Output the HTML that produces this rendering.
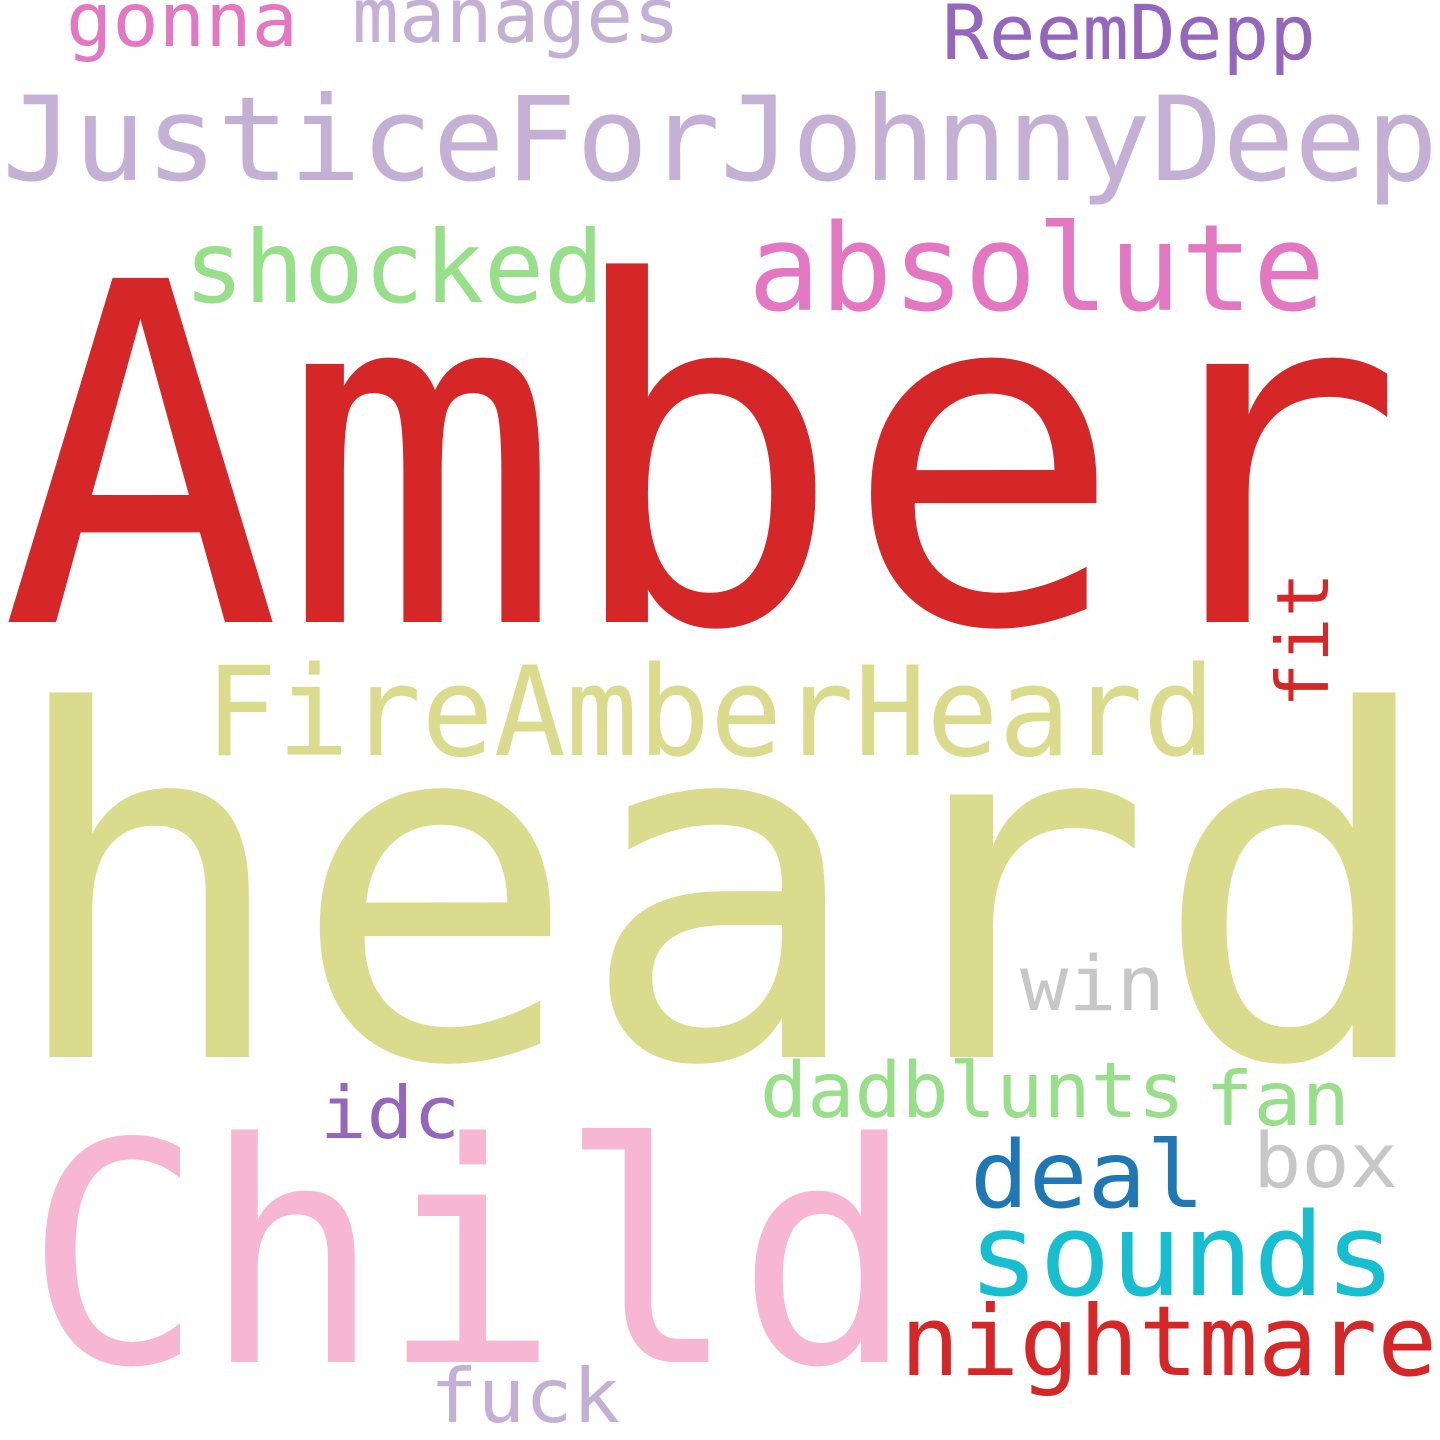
<!DOCTYPE html>
<html><head><meta charset="utf-8"><style>
html,body{margin:0;padding:0;background:#fff}
svg{display:block}
text{font-family:"DejaVu Sans Mono","Liberation Mono",monospace}
</style></head><body>
<svg width="1440" height="1440" viewBox="0 0 1440 1440">
<rect width="1440" height="1440" fill="#fff"/>
<text x="66" y="46" font-size="75" fill="#e377c2" textLength="232" lengthAdjust="spacingAndGlyphs">gonna</text>
<text x="352" y="42" font-size="76" fill="#c5b0d5" textLength="328" lengthAdjust="spacingAndGlyphs">manages</text>
<text x="942" y="59" font-size="76" fill="#9467bd" textLength="374" lengthAdjust="spacingAndGlyphs">ReemDepp</text>
<text x="2" y="180" font-size="117" fill="#c5b0d5" textLength="1436" lengthAdjust="spacingAndGlyphs">JusticeForJohnnyDeep</text>
<text x="184" y="302" font-size="100" fill="#98df8a" textLength="420" lengthAdjust="spacingAndGlyphs">shocked</text>
<text x="748" y="310" font-size="120" fill="#e377c2" textLength="577" lengthAdjust="spacingAndGlyphs">absolute</text>
<text x="0" y="622" font-size="472" fill="#d62728" textLength="1405" lengthAdjust="spacingAndGlyphs">Amber</text>
<text x="205" y="755" font-size="124" fill="#dbdb8d" textLength="1010" lengthAdjust="spacingAndGlyphs">FireAmberHeard</text>
<text transform="translate(1328,708) rotate(-90)" x="0" y="0" font-size="72" fill="#d62728" textLength="136" lengthAdjust="spacingAndGlyphs">fit</text>
<text x="4" y="1057" font-size="480" fill="#dbdb8d" textLength="1436" lengthAdjust="spacingAndGlyphs">heard</text>
<text x="1020" y="1010" font-size="76" fill="#c7c7c7" textLength="145" lengthAdjust="spacingAndGlyphs">win</text>
<text x="760" y="1117" font-size="77" fill="#98df8a" textLength="425" lengthAdjust="spacingAndGlyphs">dadblunts</text>
<text x="1205" y="1125" font-size="75" fill="#98df8a" textLength="145" lengthAdjust="spacingAndGlyphs">fan</text>
<text x="320" y="1138" font-size="72" fill="#9467bd" textLength="140" lengthAdjust="spacingAndGlyphs">idc</text>
<text x="970" y="1207" font-size="93" fill="#1f77b4" textLength="235" lengthAdjust="spacingAndGlyphs">deal</text>
<text x="1253" y="1187" font-size="76" fill="#c7c7c7" textLength="145" lengthAdjust="spacingAndGlyphs">box</text>
<text x="25" y="1362" font-size="306" fill="#f7b6d2" textLength="890" lengthAdjust="spacingAndGlyphs">Child</text>
<text x="968" y="1295" font-size="115" fill="#17becf" textLength="428" lengthAdjust="spacingAndGlyphs">sounds</text>
<text x="900" y="1375" font-size="97" fill="#d62728" textLength="537" lengthAdjust="spacingAndGlyphs">nightmare</text>
<text x="430" y="1422" font-size="75" fill="#c5b0d5" textLength="190" lengthAdjust="spacingAndGlyphs">fuck</text>
</svg>
</body></html>
